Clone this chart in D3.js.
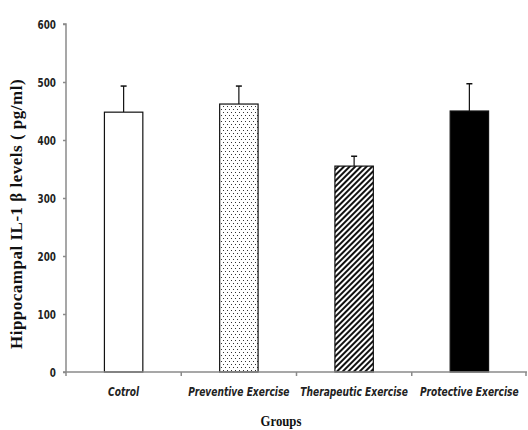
<!DOCTYPE html>
<html>
<head>
<meta charset="utf-8">
<script src="https://cdn.jsdelivr.net/npm/d3@7"></script>
<style>
  body { margin: 0; background: #fff; }
  .tick text { font-family: "DejaVu Sans", sans-serif; }
</style>
</head>
<body>
<div id="chart"></div>
<script>
// chart data
var groups = ["Cotrol", "Preventive Exercise", "Therapeutic Exercise", "Protective Exercise"];
var means = [448, 462, 355, 450];
var errors = [45, 31, 17, 47];
var fills = ["white", "url(#dots)", "url(#hatch)", "black"];
var yTicks = [0, 100, 200, 300, 400, 500, 600];

var width = 528, height = 430;
var margin = {top: 24, right: 1, bottom: 58, left: 66};

var svg = d3.select("#chart").append("svg")
    .attr("width", width)
    .attr("height", height);

var defs = svg.append("defs");
// dotted fill
var dots = defs.append("pattern")
    .attr("id", "dots")
    .attr("patternUnits", "userSpaceOnUse")
    .attr("width", 4).attr("height", 6);
dots.append("rect").attr("width", 4).attr("height", 6).attr("fill", "white");
dots.append("rect").attr("x", 1).attr("y", 1).attr("width", 1).attr("height", 1).attr("fill", "#333");
dots.append("rect").attr("x", 3).attr("y", 4).attr("width", 1).attr("height", 1).attr("fill", "#333");
// diagonal hatch
var hatch = defs.append("pattern")
    .attr("id", "hatch")
    .attr("patternUnits", "userSpaceOnUse")
    .attr("width", 4).attr("height", 4)
    .attr("patternTransform", "rotate(45)");
hatch.append("rect").attr("width", 4).attr("height", 4).attr("fill", "white");
hatch.append("rect").attr("x", 0).attr("width", 2).attr("height", 4).attr("fill", "#111");

var x = d3.scaleBand()
    .domain(groups)
    .range([margin.left, width - margin.right])
    .paddingInner(0)
    .paddingOuter(0);

var y = d3.scaleLinear()
    .domain([0, 600])
    .range([height - margin.bottom, margin.top]);

var barW = x.bandwidth() / 3;

// y axis
var yAxis = svg.append("g")
    .attr("transform", "translate(" + margin.left + ",0)")
    .call(d3.axisLeft(y).tickValues(yTicks).tickSize(3).tickPadding(7));
yAxis.selectAll("path, line").attr("stroke", "#8a8a8a").attr("stroke-width", 1.5);
// narrow labels: squeeze horizontally
yAxis.selectAll("text")
    .attr("x", 0)
    .attr("transform", "translate(-10,0) scale(0.68,1)")
    .attr("font-size", 13)
    .attr("font-weight", "bold")
    .attr("fill", "#222");
yAxis.select(".domain").attr("d", "M-3," + y(600) + "H0V" + y(0));

// bars
var bar = svg.append("g").selectAll("g")
    .data(groups)
    .enter().append("g");

bar.append("line")
    .attr("x1", function (d) { return x(d) + x.bandwidth() / 2; })
    .attr("x2", function (d) { return x(d) + x.bandwidth() / 2; })
    .attr("y1", function (d, i) { return y(means[i]); })
    .attr("y2", function (d, i) { return y(means[i] + errors[i]); })
    .attr("stroke", "#111").attr("stroke-width", 1.2);
bar.append("line")
    .attr("x1", function (d) { return x(d) + x.bandwidth() / 2 - 3; })
    .attr("x2", function (d) { return x(d) + x.bandwidth() / 2 + 3; })
    .attr("y1", function (d, i) { return y(means[i] + errors[i]); })
    .attr("y2", function (d, i) { return y(means[i] + errors[i]); })
    .attr("stroke", "#111").attr("stroke-width", 1.5);

bar.append("rect")
    .attr("x", function (d) { return x(d) + x.bandwidth() / 2 - barW / 2; })
    .attr("y", function (d, i) { return y(means[i]); })
    .attr("width", barW)
    .attr("height", function (d, i) { return y(0) - y(means[i]); })
    .attr("fill", function (d, i) { return fills[i]; })
    .attr("stroke", "#111")
    .attr("stroke-width", 1.2);

// x axis
var xAxis = svg.append("g")
    .attr("transform", "translate(0," + y(0) + ")")
    .call(d3.axisBottom(x).tickSize(0).tickPadding(15));
xAxis.select(".domain").attr("stroke", "#8a8a8a").attr("stroke-width", 1.5)
    .attr("d", "M" + (margin.left - 3) + ",0H" + (width - margin.right));
xAxis.selectAll(".tick text")
    .attr("transform", "scale(0.7,1)")
    .attr("font-size", 13)
    .attr("font-style", "italic")
    .attr("font-weight", "bold")
    .attr("fill", "#222");
// category boundary ticks
svg.append("g").selectAll("line")
    .data(groups.concat([null]))
    .enter().append("line")
    .attr("x1", function (d) { return d ? x(d) : x.range()[1] - 1; })
    .attr("x2", function (d) { return d ? x(d) : x.range()[1] - 1; })
    .attr("y1", y(0))
    .attr("y2", y(0) + 4)
    .attr("stroke", "#8a8a8a").attr("stroke-width", 1.5);

// axis titles
svg.append("text")
    .attr("transform", "translate(281,426) scale(0.85,1)")
    .attr("text-anchor", "middle")
    .attr("font-family", "Liberation Serif, serif")
    .attr("font-weight", "bold")
    .attr("font-size", 15)
    .attr("fill", "#111")
    .text("Groups");

svg.append("text")
    .attr("transform", "translate(22,214) rotate(-90)")
    .attr("text-anchor", "middle")
    .attr("font-family", "Liberation Serif, serif")
    .attr("font-weight", "bold")
    .attr("font-size", 17)
    .attr("letter-spacing", 0.5)
    .attr("fill", "#111")
    .text("Hippocampal  IL-1 \u03b2 levels ( pg/ml)");
</script>
</body>
</html>
